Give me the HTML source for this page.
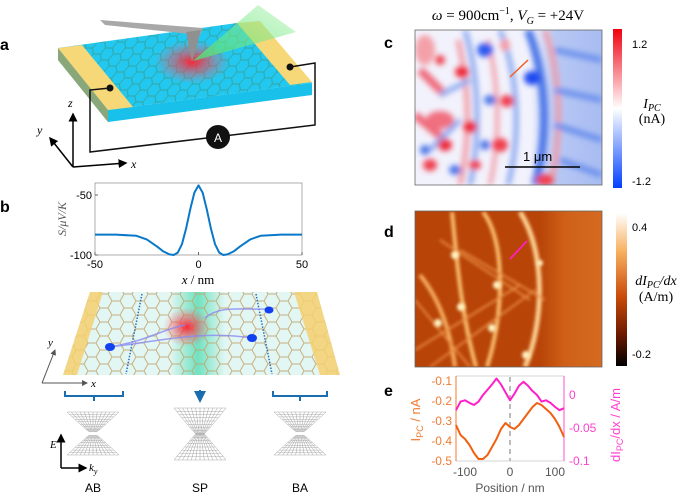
<!DOCTYPE html>
<html><head><meta charset="utf-8"><style>
body{margin:0;background:#fff;}
svg{display:block;font-family:"Liberation Sans",sans-serif;}
.ser{font-family:"Liberation Serif",serif;}
</style></head><body>
<svg id="fig" width="685" height="494" viewBox="0 0 685 494" xmlns="http://www.w3.org/2000/svg">
<defs>
<pattern id="hex" width="24" height="14" patternUnits="userSpaceOnUse">
<path d="M0 7 L4 0 L12 0 L16 7 L12 14 L4 14 Z M16 7 L24 7" fill="none" stroke="#c2a46a" stroke-width="1"/>
</pattern>
<pattern id="hexa" width="20" height="12" patternUnits="userSpaceOnUse" patternTransform="skewX(-20)">
<path d="M0 6 L3 0 L10 0 L13 6 L10 12 L3 12 Z M13 6 L20 6" fill="none" stroke="#3a9c8c" stroke-width="0.9"/>
</pattern>
<radialGradient id="red"><stop offset="0" stop-color="#ff2030" stop-opacity="0.95"/><stop offset="1" stop-color="#ff6070" stop-opacity="0"/></radialGradient>
<linearGradient id="teal" x1="0" x2="1"><stop offset="0" stop-color="#40d8a8" stop-opacity="0"/><stop offset="0.5" stop-color="#40d8a8" stop-opacity="0.7"/><stop offset="1" stop-color="#40d8a8" stop-opacity="0"/></linearGradient>
<linearGradient id="cone" x1="0" y1="1" x2="1" y2="0"><stop offset="0" stop-color="#50e070"/><stop offset="1" stop-color="#a0f0a0" stop-opacity="0.5"/></linearGradient>
<linearGradient id="cb1" x1="0" y1="0" x2="0" y2="1"><stop offset="0" stop-color="#f00010"/><stop offset="0.5" stop-color="#ffffff"/><stop offset="1" stop-color="#0040ff"/></linearGradient>
<linearGradient id="cb2" x1="0" y1="0" x2="0" y2="1"><stop offset="0" stop-color="#ffffff"/><stop offset="0.25" stop-color="#f8b060"/><stop offset="0.55" stop-color="#c84a08"/><stop offset="0.8" stop-color="#6a1800"/><stop offset="1" stop-color="#000"/></linearGradient>
<linearGradient id="cfade" x1="0" x2="1"><stop offset="0" stop-color="#b8c8f4" stop-opacity="0"/><stop offset="0.35" stop-color="#b8c8f4" stop-opacity="1"/><stop offset="1" stop-color="#a8bcf2"/></linearGradient>
<linearGradient id="dfade" x1="0" x2="1"><stop offset="0" stop-color="#d06018" stop-opacity="0"/><stop offset="0.4" stop-color="#d06018" stop-opacity="1"/><stop offset="1" stop-color="#d46a20"/></linearGradient>
<filter id="blur3"><feGaussianBlur stdDeviation="3"/></filter>
<filter id="blur2"><feGaussianBlur stdDeviation="1.6"/></filter>
<clipPath id="clipc"><rect x="415" y="30" width="187" height="155"/></clipPath>
<clipPath id="clipd"><rect x="415" y="211" width="187" height="156"/></clipPath>
<marker id="ah" markerWidth="6" markerHeight="6" refX="5" refY="3" orient="auto"><path d="M0 0 L6 3 L0 6 Z" fill="#000"/></marker>
<marker id="ahg" markerWidth="6" markerHeight="6" refX="5" refY="3" orient="auto"><path d="M0 0 L6 3 L0 6 Z" fill="#555"/></marker>
<marker id="ahb" markerWidth="6" markerHeight="6" refX="5" refY="3" orient="auto"><path d="M0 0 L6 3 L0 6 Z" fill="#1a6eb0"/></marker>
</defs>

<!-- Panel a -->
<g>
<text x="0" y="50" font-weight="bold" font-size="16">a</text>
<polygon points="58,48 108,110 108,122 58,60" fill="#0a90b8"/>
<polygon points="108,110 312,83 312,95 108,122" fill="#18c0ea"/>
<polygon points="58,48 237,23 312,83 108,110" fill="#22c8f0"/>
<polygon points="58,48 237,23 312,83 108,110" fill="url(#hexa)" opacity="0.8"/>
<polygon points="58,48 82,45 133,107 108,110" fill="#f6d878"/>
<polygon points="58,48 108,110 108,122 58,60" fill="#e0b850" opacity="0.6"/>
<polygon points="237,23 260,21 312,82 290,85" fill="#f6d878"/>
<ellipse cx="192" cy="62" rx="38" ry="22" fill="url(#red)"/>
<polygon points="100,20 203,28 200,35 105,25" fill="#a8a8a8"/>
<polygon points="186,32 201,30 192,62" fill="#909090"/>
<polygon points="193,61 258,5 296,32" fill="url(#cone)" opacity="0.8"/>
<path d="M110 88 L90 90 L90 152 L315 125 L315 63 L290 67" fill="none" stroke="#111" stroke-width="1.5"/>
<circle cx="110" cy="88" r="3.5" fill="#111"/><circle cx="290" cy="67" r="3.5" fill="#111"/>
<circle cx="218" cy="137" r="12" fill="#111"/>
<text x="218" y="142" fill="#fff" font-size="12" text-anchor="middle">A</text>
<line x1="73" y1="167" x2="73" y2="114" stroke="#000" stroke-width="1.5" marker-end="url(#ah)"/>
<line x1="73" y1="167" x2="126" y2="163" stroke="#000" stroke-width="1.5" marker-end="url(#ah)"/>
<line x1="73" y1="167" x2="50" y2="138" stroke="#000" stroke-width="1.5" marker-end="url(#ah)"/>
<text x="68" y="107" class="ser" font-style="italic" font-size="12">z</text>
<text x="37" y="134" class="ser" font-style="italic" font-size="12">y</text>
<text x="131" y="168" class="ser" font-style="italic" font-size="12">x</text>
</g>

<!-- Panel b -->
<text x="0" y="212" font-weight="bold" font-size="16">b</text>
<g id="bplot"></g>

<g>
<polygon points="90,292 317,292 340,375 63,375" fill="#e2f6f4"/>
<rect x="170" y="292" width="55" height="83" fill="url(#teal)"/>
<polygon points="90,292 317,292 340,375 63,375" fill="url(#hex)" opacity="0.85"/>
<polygon points="90,292 103,292 77,375 63,375" fill="#f6d070" opacity="0.85"/>
<polygon points="294,292 317,292 340,375 320,375" fill="#f6d070" opacity="0.85"/>
<line x1="142" y1="294" x2="126" y2="374" stroke="#2a70b8" stroke-width="1.5" stroke-dasharray="1.5 1.5"/>
<line x1="256" y1="294" x2="272" y2="374" stroke="#2a70b8" stroke-width="1.5" stroke-dasharray="1.5 1.5"/>
<ellipse cx="187" cy="327" rx="24" ry="20" fill="url(#red)"/>
<path d="M110 347 C150 340 160 330 185 325 M110 347 C155 342 200 330 252 338 M205 318 C220 305 240 310 270 309" fill="none" stroke="#8a8af0" stroke-width="1.5" opacity="0.8"/>
<ellipse cx="110" cy="347" rx="5" ry="4" fill="#1040f0"/>
<ellipse cx="252" cy="338" rx="5" ry="4" fill="#1040f0"/>
<ellipse cx="269" cy="310" rx="4.5" ry="3.5" fill="#1040f0"/>
<line x1="42" y1="383" x2="55" y2="350" stroke="#555" stroke-width="1" marker-end="url(#ahg)"/>
<line x1="42" y1="383" x2="87" y2="383" stroke="#555" stroke-width="1" marker-end="url(#ahg)"/>
<text x="48" y="346" class="ser" font-style="italic" font-size="11">y</text>
<text x="91" y="387" class="ser" font-style="italic" font-size="11">x</text>
<path d="M65 391 L65 396 L123 396 L123 391 M94 396 L94 401" fill="none" stroke="#1a6eb0" stroke-width="2"/>
<path d="M273 391 L273 396 L327 396 L327 391 M300 396 L300 401" fill="none" stroke="#1a6eb0" stroke-width="2"/>
<line x1="200" y1="390" x2="200" y2="401" stroke="#1a6eb0" stroke-width="2" marker-end="url(#ahb)"/>
</g>

<g id="bands">
<line x1="61" y1="468" x2="61" y2="435" stroke="#000" stroke-width="1.5" marker-end="url(#ah)"/>
<line x1="61" y1="468" x2="86" y2="468" stroke="#000" stroke-width="1.5" marker-end="url(#ah)"/>
<text x="50" y="448" class="ser" font-style="italic" font-size="11">E</text>
<text x="89" y="471" class="ser" font-style="italic" font-size="11">k<tspan font-size="8" dy="3">y</tspan></text>
<text x="93" y="492" font-size="12" text-anchor="middle">AB</text>
<text x="200" y="492" font-size="12" text-anchor="middle">SP</text>
<text x="300" y="492" font-size="12" text-anchor="middle">BA</text>
</g>

<!-- Panel c -->
<text x="384" y="48" font-weight="bold" font-size="16">c</text>
<text x="508" y="20" class="ser" font-size="15" text-anchor="middle"><tspan font-style="italic">ω</tspan> = 900cm<tspan font-size="10" dy="-6">−1</tspan><tspan dy="6">, </tspan><tspan font-style="italic">V</tspan><tspan font-size="10" font-style="italic" dy="4">G</tspan><tspan dy="-4"> = +24V</tspan></text>
<g clip-path="url(#clipc)">
<rect x="415" y="30" width="187" height="155" fill="#f2f2fc"/>
<rect x="530" y="30" width="72" height="155" fill="url(#cfade)"/>
<g filter="url(#blur3)">
<path d="M528 30 C548 80 548 140 535 185" stroke="#4a74e8" stroke-width="8" fill="none"/>
<path d="M545 30 C562 80 562 140 550 185" stroke="#f29aa4" stroke-width="5" fill="none"/>
<path d="M500 30 C520 80 520 140 508 185" stroke="#8aa8f0" stroke-width="5" fill="none"/>
<path d="M465 30 C480 80 480 140 470 185" stroke="#8aa8f0" stroke-width="5" fill="none"/>
<path d="M458 40 C470 90 470 140 460 185" stroke="#f29aa4" stroke-width="5" fill="none"/>
<path d="M488 40 C500 90 500 140 490 185" stroke="#f29aa4" stroke-width="4" fill="none"/>
<path d="M555 50 L602 60 M555 90 L602 100 M555 125 L602 140 M560 160 L602 175" stroke="#6a90ec" stroke-width="6"/>
<path d="M415 115 L445 140 M420 70 L445 95" stroke="#f06878" stroke-width="8"/>
<path d="M440 95 L470 80 M430 150 L460 120" stroke="#8aa8f0" stroke-width="5"/>
<ellipse cx="440" cy="120" rx="14" ry="9" fill="#f07080"/>
<ellipse cx="425" cy="50" rx="10" ry="15" fill="#f4a0a8"/>
<ellipse cx="462" cy="72" rx="7" ry="6" fill="#ee2a3a"/>
<ellipse cx="485" cy="50" rx="8" ry="7" fill="#2a5af0"/>
<ellipse cx="532" cy="78" rx="8" ry="7" fill="#1a4af0"/>
<ellipse cx="470" cy="127" rx="7" ry="6" fill="#ee2a3a"/>
<ellipse cx="445" cy="145" rx="7" ry="6" fill="#ee2a3a"/>
<ellipse cx="500" cy="145" rx="8" ry="7" fill="#f04050"/>
<ellipse cx="507" cy="101" rx="7" ry="6" fill="#f04050"/>
<ellipse cx="490" cy="100" rx="6" ry="5" fill="#4a74e8"/>
<ellipse cx="430" cy="165" rx="7" ry="6" fill="#f04050"/>
<ellipse cx="475" cy="165" rx="6" ry="5" fill="#f04050"/>
<ellipse cx="545" cy="180" rx="9" ry="6" fill="#f04050"/>
<ellipse cx="455" cy="170" rx="6" ry="5" fill="#4a74e8"/>
<ellipse cx="425" cy="150" rx="5" ry="5" fill="#4a74e8"/>
<ellipse cx="485" cy="145" rx="5" ry="5" fill="#4a74e8"/>
<ellipse cx="440" cy="60" rx="5" ry="5" fill="#f04050"/>
<ellipse cx="505" cy="45" rx="5" ry="6" fill="#f29aa4"/>
</g>
<line x1="510" y1="77" x2="528" y2="60" stroke="#f06020" stroke-width="1.5"/>
<line x1="505" y1="167" x2="580" y2="167" stroke="#000" stroke-width="1.5"/>
<text x="523" y="161" font-size="13">1 μm</text>
</g>
<rect x="415" y="30" width="187" height="155" fill="none" stroke="#666" stroke-width="0.8"/>
<rect x="613" y="29" width="9" height="159" fill="url(#cb1)"/>
<text x="632" y="48" font-size="11">1.2</text>
<text x="632" y="185" font-size="11">-1.2</text>
<text x="652" y="108" class="ser" font-size="14" text-anchor="middle"><tspan font-style="italic">I</tspan><tspan font-size="10" font-style="italic" dy="3">PC</tspan></text>
<text x="652" y="123" class="ser" font-size="14" text-anchor="middle">(nA)</text>

<!-- Panel d -->
<text x="384" y="237" font-weight="bold" font-size="16">d</text>
<g clip-path="url(#clipd)">
<rect x="415" y="211" width="187" height="156" fill="#b84408"/>
<rect x="540" y="211" width="62" height="156" fill="url(#dfade)"/>
<g filter="url(#blur2)" fill="none">
<path d="M420 275 C440 300 450 330 455 367" stroke="#f8b060" stroke-width="4"/>
<path d="M452 212 C456 250 460 310 476 367" stroke="#fbc070" stroke-width="4"/>
<path d="M483 212 C505 240 505 310 487 367" stroke="#fbc070" stroke-width="4"/>
<path d="M520 212 C545 250 545 320 525 367" stroke="#fcd090" stroke-width="5"/>
<path d="M415 350 L520 285 M430 367 L535 290 M440 240 L530 300 M460 250 L545 300 M415 300 L470 367" stroke="#e88a40" stroke-width="2"/>
</g>
<g fill="#fff2c0" filter="url(#blur2)">
<circle cx="455" cy="255" r="4"/><circle cx="497" cy="285" r="4"/><circle cx="461" cy="307" r="4"/>
<circle cx="492" cy="328" r="4"/><circle cx="438" cy="323" r="4"/><circle cx="540" cy="263" r="3"/><circle cx="526" cy="355" r="4"/>
</g>
<line x1="510" y1="259" x2="527" y2="241" stroke="#ff20c0" stroke-width="1.8"/>
</g>
<rect x="415" y="211" width="187" height="156" fill="none" stroke="#666" stroke-width="0.8"/>
<rect x="616" y="213" width="11" height="153" fill="url(#cb2)"/>
<text x="632" y="231" font-size="11">0.4</text>
<text x="632" y="358" font-size="11">-0.2</text>
<text x="656" y="285" class="ser" font-size="14" text-anchor="middle" font-style="italic">dI<tspan font-size="10" dy="3">PC</tspan><tspan dy="-3">/dx</tspan></text>
<text x="656" y="301" class="ser" font-size="14" text-anchor="middle">(A/m)</text>

<!-- Panel e -->
<text x="384" y="396" font-weight="bold" font-size="16">e</text>
<g id="eplot"></g>
</svg>
<script>
const NS='http://www.w3.org/2000/svg';
function mk(p,tag,at,txt){const e=document.createElementNS(NS,tag);for(const k in at)e.setAttribute(k,at[k]);if(txt!==undefined)e.textContent=txt;p.appendChild(e);return e;}

// ---- Panel b data ----
const bX=[-50,-40,-30,-25,-20,-17,-14,-12,-10,-8,-6,-4,-2,0,2,4,6,8,10,12,14,17,20,25,30,40,50];
const bS=[-83,-83,-84,-87,-93,-97,-99.5,-100,-98,-91,-78,-62,-48,-42,-48,-62,-78,-91,-98,-100,-99.5,-97,-93,-87,-84,-83,-83];
const bXTicks=[-50,0,50];
const bYTicks=[-50,-100];
// ---- Panel e data ----
const ePos=[-120,-110,-100,-90,-80,-70,-60,-50,-40,-30,-20,-10,0,10,20,30,40,50,60,70,80,90,100,110,120];
const eIpc=[-0.32,-0.37,-0.39,-0.42,-0.46,-0.49,-0.49,-0.47,-0.43,-0.39,-0.34,-0.31,-0.33,-0.34,-0.32,-0.29,-0.26,-0.23,-0.21,-0.22,-0.24,-0.26,-0.29,-0.33,-0.38];
const eDi=[-0.023,-0.01,-0.008,-0.012,-0.015,-0.01,0.0,0.008,0.016,0.025,0.016,0.004,-0.008,0.002,0.014,0.02,0.014,0.006,0.0,-0.01,-0.008,-0.012,-0.018,-0.023,-0.02];
const eXTicks=[-100,0,100];
const eLTicks=[-0.1,-0.2,-0.3,-0.4,-0.5];
const eRTicks=[0,-0.05,-0.1];

(function(){
const g=document.getElementById('bplot');
const x=v=>95+(v+50)/100*207, y=v=>255-(v+100)/50*60;
const box=mk(g,'rect',{x:95,y:183,width:207,height:72,fill:'none',stroke:'#999','stroke-width':0.8});


bXTicks.forEach(t=>{mk(g,'line',{x1:x(t),x2:x(t),y1:255,y2:252,stroke:'#666'});
 const tl=mk(g,'text',{x:x(t),y:268,'font-size':11,'text-anchor':'middle'},String(t));
 
 });
bYTicks.forEach(t=>{mk(g,'line',{x1:95,x2:98,y1:y(t),y2:y(t),stroke:'#666'});
 const tl=mk(g,'text',{x:92,y:y(t)+4,'font-size':11,'text-anchor':'end'},String(t));
 
 });
const line=mk(g,'polyline',{points:bX.map((v,i)=>x(v)+','+y(bS[i])).join(' '),fill:'none',stroke:'#0a78c8','stroke-width':2,'stroke-linejoin':'round'});


const xt=mk(g,'text',{x:198,y:284,'font-size':13,'text-anchor':'middle',class:'ser'});
xt.innerHTML='<tspan font-style="italic">x</tspan> / nm';


const yt=mk(g,'text',{x:0,y:0,'font-size':12,'text-anchor':'middle',class:'ser','font-style':'italic',fill:'#555',transform:'translate(66,219) rotate(-90)'},'S/μV/K');


})();

(function(){
const g=document.getElementById('bands');
function cone(cx,top,bot,gap){
 const w=26, mid=(top+bot)/2;
 for(let i=0;i<=12;i++){const f=i/12;
  mk(g,'path',{d:`M${cx-w+2*w*f} ${top} Q${cx-(w-2*w*f)*0.2} ${mid-gap} ${cx-(w-2*w*f)*0.15} ${mid-gap} M${cx-w+2*w*f} ${bot} Q${cx-(w-2*w*f)*0.2} ${mid+gap} ${cx-(w-2*w*f)*0.15} ${mid+gap}`,fill:'none',stroke:'#888','stroke-width':0.4});}
 for(let j=0;j<=8;j++){const yy=top+(mid-gap-top)*j/8, ww=w*(1-j/8*0.85);
  mk(g,'line',{x1:cx-ww,x2:cx+ww,y1:yy,y2:yy,stroke:'#999','stroke-width':0.4});
  const yb=bot-(bot-mid-gap)*j/8; mk(g,'line',{x1:cx-ww,x2:cx+ww,y1:yb,y2:yb,stroke:'#999','stroke-width':0.4});}
}
cone(93,412,455,2);cone(200,408,460,0);cone(300,412,455,2);
})();

(function(){
const g=document.getElementById('eplot');
const x=v=>510+v*0.45, yl=v=>461-(v+0.5)/0.1*20, yr=v=>461-(v+0.1)/0.05*33;
const box=mk(g,'rect',{x:456,y:376,width:108,height:85,fill:'none',stroke:'#ccc','stroke-width':0.8});


mk(g,'line',{x1:456,x2:456,y1:376,y2:461,stroke:'#f07a30'});
mk(g,'line',{x1:564,x2:564,y1:376,y2:461,stroke:'#ff50d0'});
mk(g,'line',{x1:510,x2:510,y1:377,y2:461,stroke:'#bbb','stroke-width':2,'stroke-dasharray':'5 4'});
eXTicks.forEach(t=>{const tl=mk(g,'text',{x:x(t),y:476,'font-size':12,'text-anchor':'middle',fill:'#555'},String(t));
 
 });
eLTicks.forEach(t=>{const tl=mk(g,'text',{x:452,y:yl(t)+4,'font-size':12,'text-anchor':'end',fill:'#f07a30'},String(t));
 
 });
eRTicks.forEach(t=>{const tl=mk(g,'text',{x:569,y:yr(t)+4,'font-size':12,fill:'#ff40d0'},String(t));
 
 });
const l1=mk(g,'polyline',{points:ePos.map((v,i)=>x(v)+','+yl(eIpc[i])).join(' '),fill:'none',stroke:'#f06010','stroke-width':2,'stroke-linejoin':'round'});


const l2=mk(g,'polyline',{points:ePos.map((v,i)=>x(v)+','+yr(eDi[i])).join(' '),fill:'none',stroke:'#ff20c8','stroke-width':2,'stroke-linejoin':'round'});


const xt=mk(g,'text',{x:510,y:492,'font-size':12,'text-anchor':'middle',fill:'#555'},'Position / nm');


const y1=mk(g,'text',{x:0,y:0,'font-size':13,'text-anchor':'middle',fill:'#f07a30',transform:'translate(420,420) rotate(-90)'});
y1.innerHTML='I<tspan font-size="9" dy="3">PC</tspan><tspan dy="-3"> / nA</tspan>';


const y2=mk(g,'text',{x:0,y:0,'font-size':13,'text-anchor':'middle',fill:'#ff40d0',transform:'translate(620,425) rotate(-90)'});
y2.innerHTML='dI<tspan font-size="9" dy="3">PC</tspan><tspan dy="-3">/dx / A/m</tspan>';


})();
</script>
</body></html>
